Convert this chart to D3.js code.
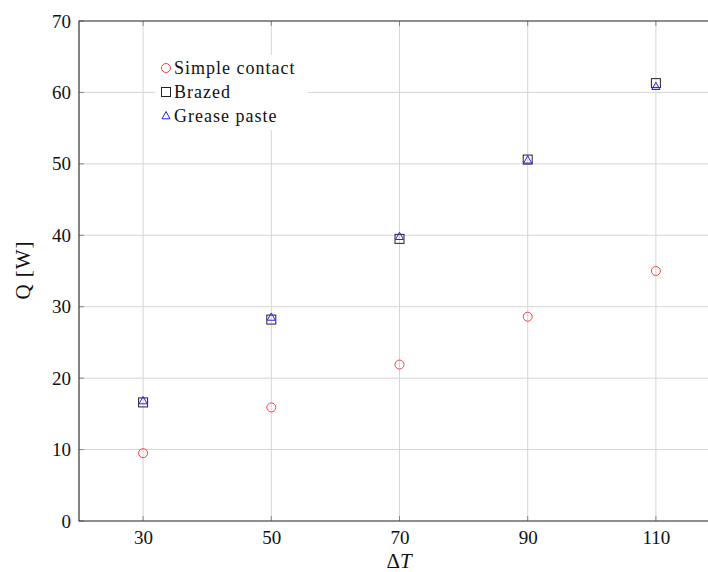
<!DOCTYPE html>
<meta charset="utf-8">
<style>
body { margin: 0; background: #fff; }
svg { display: block; }
text { font-family: "Liberation Serif", "DejaVu Serif", serif; fill: #111; }
.grid line { stroke: #d6d6d6; stroke-width: 1; }
</style>
<svg id="chart" width="708" height="572"></svg>
<script src="https://d3js.org/d3.v7.min.js"></script>
<script>
// data
var deltaT = [30, 50, 70, 90, 110];
var simpleContact = [9.5, 15.9, 21.9, 28.6, 35.0];
var brazed = [16.6, 28.2, 39.5, 50.6, 61.3];
var greasePaste = [16.8, 28.5, 39.8, 50.5, 60.8];
var yTicks = [0, 10, 20, 30, 40, 50, 60, 70];
var seriesNames = ["Simple contact", "Brazed", "Grease paste"];

var svg = d3.select("#chart");
var margin = { left: 79, top: 21, right: -12, bottom: 51 };
var W = 708, H = 572;

var x = d3.scaleLinear().domain([20, 120]).range([margin.left, W - margin.right]);
var y = d3.scaleLinear().domain([0, 70]).range([H - margin.bottom, margin.top]);

// grid
var grid = svg.append("g").attr("class", "grid");
grid.selectAll(".gx").data(deltaT).enter().append("line")
  .attr("x1", d => x(d)).attr("x2", d => x(d))
  .attr("y1", y(0)).attr("y2", y(70));
grid.selectAll(".gy").data(yTicks).enter().append("line")
  .attr("x1", x(20)).attr("x2", x(120))
  .attr("y1", d => y(d)).attr("y2", d => y(d));

// inner tick marks
var ticks = svg.append("g").attr("stroke", "#888").attr("stroke-width", 1);
deltaT.forEach(function (d) {
  ticks.append("line").attr("x1", x(d)).attr("x2", x(d)).attr("y1", y(0)).attr("y2", y(0) - 5);
  ticks.append("line").attr("x1", x(d)).attr("x2", x(d)).attr("y1", y(70)).attr("y2", y(70) + 5);
});
yTicks.forEach(function (d) {
  ticks.append("line").attr("x1", x(20)).attr("x2", x(20) + 5).attr("y1", y(d)).attr("y2", y(d));
});

// axes frame
svg.append("path")
  .attr("d", "M" + x(120) + "," + y(70) + "H" + x(20) + "V" + y(0) + "H" + x(120))
  .attr("fill", "none").attr("stroke", "#333").attr("stroke-width", 1.2);

// tick labels via d3 axes, lines hidden
var xAxis = svg.append("g").attr("transform", "translate(0," + y(0) + ")")
  .call(d3.axisBottom(x).tickValues(deltaT).tickSize(0).tickPadding(10));
var yAxis = svg.append("g").attr("transform", "translate(" + x(20) + ",0)")
  .call(d3.axisLeft(y).tickValues(yTicks).tickSize(0).tickPadding(8));
[xAxis, yAxis].forEach(function (a) {
  a.select(".domain").remove();
  a.selectAll("text").attr("font-family", "Liberation Serif, serif").attr("font-size", 19).attr("fill", "#111");
});

// markers
var sym = {
  circle: function (g, cx, cy) {
    g.append("circle").attr("cx", cx).attr("cy", cy).attr("r", 4.5)
      .attr("fill", "none").attr("stroke", "#ff4040").attr("stroke-width", 1);
  },
  square: function (g, cx, cy) {
    g.append("rect").attr("x", cx - 4.5).attr("y", cy - 4.5).attr("width", 9).attr("height", 9)
      .attr("fill", "none").attr("stroke", "#222").attr("stroke-width", 1);
  },
  triangle: function (g, cx, cy) {
    g.append("path").attr("d", "M" + cx + "," + (cy - 4.5) + "L" + (cx + 4) + "," + (cy + 2.8) + "L" + (cx - 4) + "," + (cy + 2.8) + "Z")
      .attr("fill", "none").attr("stroke", "#2020ff").attr("stroke-width", 1);
  }
};
var series = [
  { vals: simpleContact, s: "circle" },
  { vals: brazed, s: "square" },
  { vals: greasePaste, s: "triangle" }
];
var marks = svg.append("g");
series.forEach(function (se) {
  se.vals.forEach(function (v, i) { sym[se.s](marks, x(deltaT[i]), y(v)); });
});

// legend
var lg = svg.append("g");
lg.append("rect").attr("x", 155).attr("y", 55).attr("width", 153).attr("height", 75).attr("fill", "#fff");
seriesNames.forEach(function (n, i) {
  var cy = 68 + i * 24;
  sym[series[i].s](lg, 166, cy);
  lg.append("text").attr("x", 174).attr("y", cy + 6).attr("font-size", 18)
    .attr("letter-spacing", 1).text(n);
});

// axis labels
var xl = svg.append("text").attr("x", 399).attr("y", 568).attr("text-anchor", "middle").attr("font-size", 21);
xl.append("tspan").text("Δ");
xl.append("tspan").attr("font-style", "italic").text("T");

svg.append("text").attr("transform", "translate(30,270) rotate(-90)")
  .attr("text-anchor", "middle").attr("font-size", 21).attr("letter-spacing", 1).text("Q [W]");
</script>
